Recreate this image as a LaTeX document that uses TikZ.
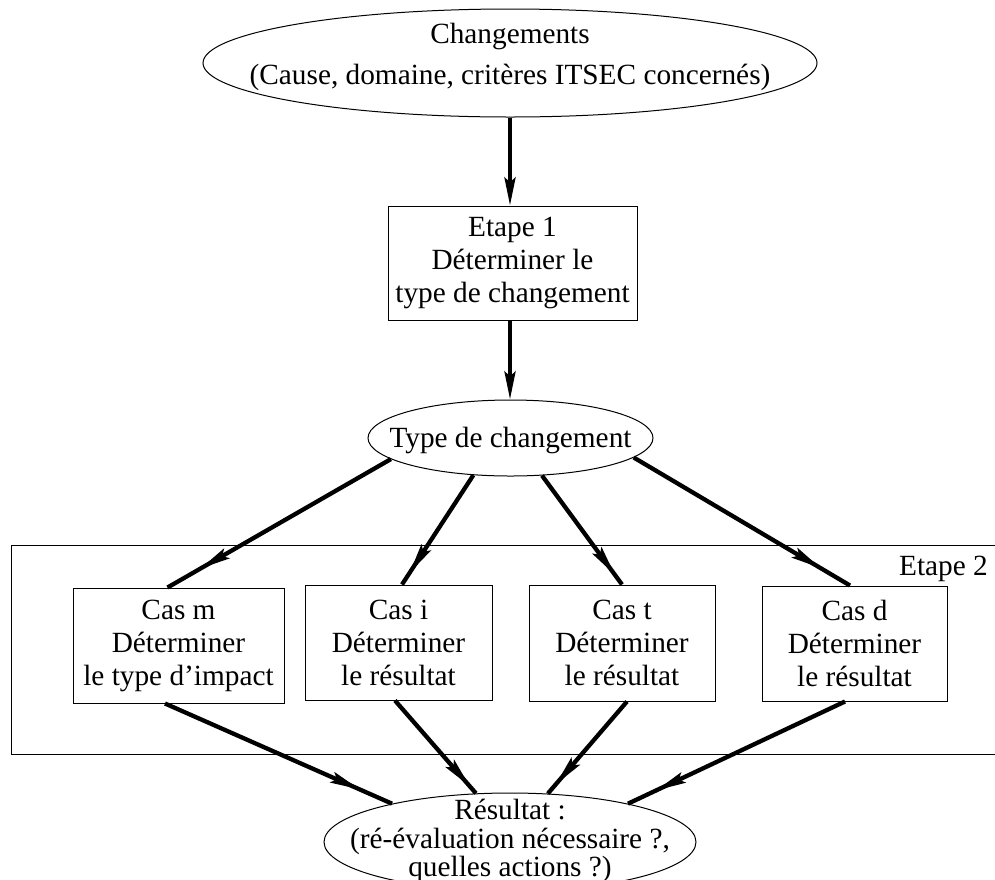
\documentclass[tikz,border=0pt]{standalone}
\usepackage{fontspec}
\setmainfont{Liberation Serif}
\usetikzlibrary{shapes.geometric,arrows.meta,decorations.markings,calc}
\begin{document}
\begin{tikzpicture}[x=1pt,y=-1pt,
  every node/.style={font=\fontsize{29.3}{33}\selectfont, align=center, inner sep=0pt},
  ell/.style={draw, ellipse, line width=1pt},
  box/.style={draw, rectangle, line width=1pt},
  thickline/.style={line width=4.3pt},
  arrowend/.style={thickline, -{Stealth[length=28pt,width=11pt,inset=5pt]}},
  midtip/.style={thickline, postaction={decorate},
    decoration={markings, mark=at position -#1 with {\arrow{Stealth[length=30pt,width=11pt,inset=5pt]}}}},
]
\useasboundingbox (0,0) rectangle (995,879);

% Etape 2 frame
\draw[line width=1pt] (11,545) rectangle (1003,754);
\node[anchor=base east] (et2) at (988,575) {Etape 2};

% nodes
\node[ell, minimum width=614pt, minimum height=108pt] (chg) at (510,63) {};
\node[anchor=base] (chgt1) at (510,43) {Changements};
\node[anchor=base] (chgt2) at (510,84) {(Cause, domaine, critères ITSEC concernés)};

\node[box, minimum width=249pt, minimum height=114pt] (e1) at (512.5,263)
  {Etape 1\\Déterminer le\hspace*{14pt}\\type de changement};

\node[ell, minimum width=285pt, minimum height=76pt] (type) at (510.5,438) {};
\node[anchor=base] (typet) at (510.5,447) {Type de changement};

\node[box, minimum width=211pt, minimum height=115pt] (casm) at (178.5,645.5)
  {Cas m\\Déterminer\\le type d’impact};
\node[box, minimum width=187pt, minimum height=115pt] (casi) at (398.5,642.5)
  {Cas i\\Déterminer\\le résultat};
\node[box, minimum width=186pt, minimum height=116pt] (cast) at (622,643)
  {Cas t\\Déterminer\\le résultat};
\node[box, minimum width=185pt, minimum height=115pt] (casd) at (854.5,643.5)
  {Cas d\\Déterminer\\le résultat};

\node[ell, minimum width=372pt, minimum height=98pt] (res) at (510,842) {};
\node[anchor=base] (rest1) at (510,819) {Résultat :};
\node[anchor=base] (rest2) at (510,848) {(ré-évaluation nécessaire ?,};
\node[anchor=base] (rest3) at (510,876) {quelles actions ?)};

% connectors
\draw[arrowend] (chg.south) -- (chg.south |- e1.north);
\draw[arrowend] (e1.south -| chg.south) -- (chg.south |- type.north);

\draw[midtip=38pt] (type.190) -- ($(casm.north)+(-11,0)$);
\draw[midtip=14pt] (type.225) -- ($(casi.north)+(3.5,0)$);
\draw[midtip=12pt] (type.310) -- (cast.north);
\draw[midtip=34pt] (type.351) -- ($(casd.north)+(-4.5,0)$);

\draw[midtip=35pt] ($(casm.south)+(-13.5,0)$) -- (res.162);
\draw[midtip=9pt] ($(casi.south)+(-3.5,0)$) -- (res.125);
\draw[midtip=12pt] ($(cast.south)+(5,0)$) -- (res.52);
\draw[midtip=31pt] ($(casd.south)+(-9.5,0)$) -- (res.18);
\end{tikzpicture}
\end{document}
